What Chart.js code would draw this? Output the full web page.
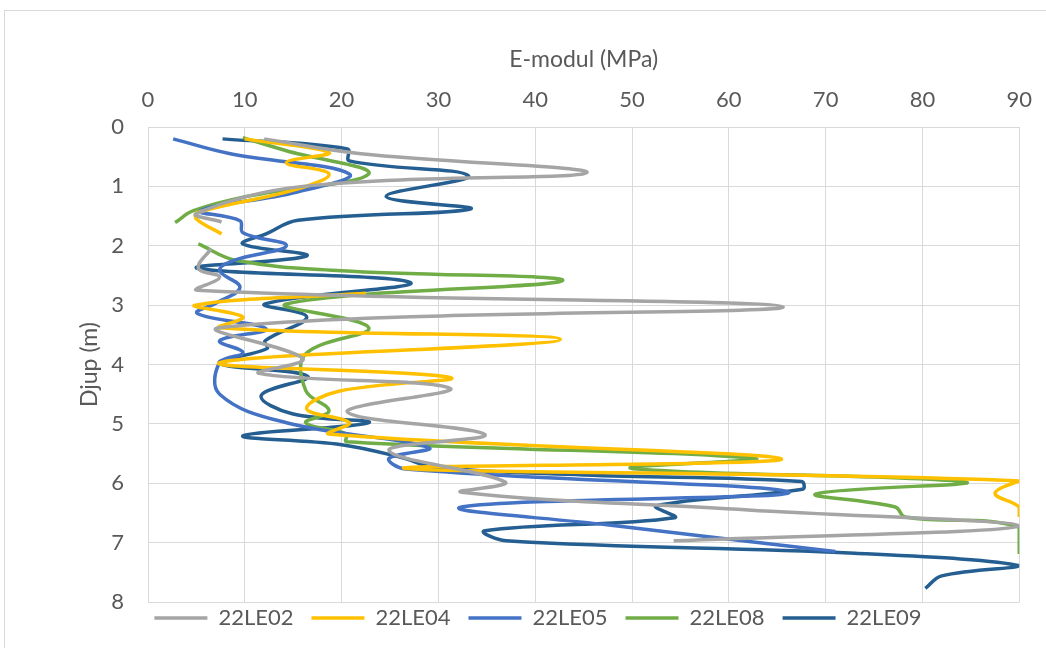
<!DOCTYPE html>
<html>
<head>
<meta charset="utf-8">
<title>E-modul</title>
<script src="https://cdn.jsdelivr.net/npm/chart.js@4"></script>
<style>
  html, body { margin: 0; padding: 0; background: #fff; overflow: hidden; }
  #caja { width: 1046px; height: 648px; }
</style>
</head>
<body>
<div id="caja"><canvas id="miGrafico"></canvas></div>
<script>
// Profundidad (m) y E-modul (MPa) de cada sondeo; null = corte de la linea
const depth02 = [0.2, 0.45, 0.77, 1.0, 1.46, 1.6, null, 2.05, 2.38, 2.53, 2.75, 3.03, 3.38, 3.9, 4.15, 4.4, 4.8, 5.18, 5.45, 5.98, 6.15, 6.45, 6.72, 6.97];
const emod02  = [12, 22, 45.3, 16, 5.0, 7.6, null, 6.5, 5.2, 7.4, 5.1, 65.6, 7.4, 16, 11.5, 31.2, 20.6, 34.8, 24.9, 36.9, 32.4, 62, 90, 54.3];

const depth04 = [0.2, 0.43, 0.6, 0.79, 1.05, 1.44, 1.55, 1.8, null, 2.8, 3.0, 3.2, 3.38, 3.58, 3.97, 4.22, 4.45, 4.75, 4.98, 5.17, 5.59, 5.75, 5.96, 6.17, 6.4, 6.57];
const emod04  = [10, 18.7, 14.3, 18.7, 15.3, 5.1, 5.0, 7.6, null, 22.5, 4.9, 9.8, 7.4, 42.6, 7.4, 31.2, 19.7, 16.4, 20.8, 18.7, 65.4, 26.6, 90, 87.5, 90, 90];

const depth05 = [0.2, 0.45, 0.79, 1.1, 1.41, 1.58, 1.78, 2.0, 2.25, 2.42, 2.7, 2.96, 3.14, 3.4, 3.6, 3.8, 3.97, 4.5, 4.98, 5.4, 5.58, 5.76, 6.15, 6.4, 6.7, 7.15];
const emod05  = [2.6, 8.5, 20.8, 15.3, 5.4, 9.5, 9.8, 14.3, 8.8, 7.4, 9.5, 7.1, 5.1, 12.2, 7.4, 9.8, 7.4, 7.4, 14.3, 29, 24.9, 26.6, 66.2, 32.4, 47.4, 71];

const depth08 = [0.18, 0.4, 0.79, 1.16, 1.41, 1.61, null, 1.97, 2.25, 2.42, 2.59, 2.98, 3.38, 3.82, 4.44, 4.78, 4.98, 5.17, 5.3, 5.58, 5.75, 5.98, 6.18, 6.4, 6.57, 6.74, 7.19];
const emod08  = [9.8, 14.3, 22.8, 10.5, 4.7, 2.8, null, 5.2, 9.2, 20, 42.8, 14.3, 22.8, 16.3, 16.3, 18.7, 16.3, 20.5, 20.5, 62.6, 50, 84.4, 69, 77.2, 78.2, 90, 90];

const depth09 = [0.2, 0.37, 0.57, 0.82, 1.17, 1.38, 1.57, 1.8, 1.97, 2.17, 2.38, 2.62, 2.98, 3.2, 3.6, 3.73, 3.98, 4.2, 4.52, 4.83, 4.98, 5.2, 5.35, 5.58, 5.73, 5.86, 5.97, 6.1, 6.38, 6.58, 6.8, 6.97, 7.18, 7.39, 7.56, 7.77];
const emod09  = [7.7, 20.6, 20.8, 33.1, 24.6, 33.3, 15.5, 12.2, 9.8, 16.4, 5.1, 27.1, 12.1, 16.4, 12.1, 12.3, 7.4, 16.5, 11.7, 14.9, 22.8, 9.8, 20, 26.5, 29.5, 45, 67.5, 67.6, 52.5, 54.4, 34.8, 37, 73, 90, 82, 80.3];

const series = ['22LE02', '22LE04', '22LE05', '22LE08', '22LE09'];
const colores = ['#A5A5A5', '#FFC000', '#4472C4', '#70AD47', '#255E91'];
const xTicks = [0, 10, 20, 30, 40, 50, 60, 70, 80, 90];
const yTicks = [0, 1, 2, 3, 4, 5, 6, 7, 8];

document.addEventListener('DOMContentLoaded', function () {
  const ctx = document.getElementById('miGrafico').getContext('2d');

  // une cada par profundidad / E-modul en puntos {x, y}
  function puntos(prof, emod) {
    return prof.map(function (d, i) { return { x: emod[i], y: d }; });
  }
  const pares = [[depth02, emod02], [depth04, emod04], [depth05, emod05], [depth08, emod08], [depth09, emod09]];

  const datasets = series.map(function (nombre, i) {
    return {
      label: nombre,
      data: puntos(pares[i][0], pares[i][1]),
      borderColor: colores[i],
      backgroundColor: colores[i],
      borderWidth: 3.5,
      showLine: true,
      pointRadius: 0,
      pointHoverRadius: 0,
      tension: 0.4,
      spanGaps: false
    };
  });

  const texto = '#595959';
  const rejilla = '#D9D9D9';
  const fuente = { family: 'Lato', size: 22 };

  // marco del grafico y leyenda un poco mas arriba
  const marco = {
    id: 'marco',
    beforeDraw: function (chart) {
      const c = chart.ctx;
      c.save();
      c.fillStyle = '#ffffff';
      c.fillRect(0, 0, chart.width, chart.height);
      c.strokeStyle = rejilla;
      c.lineWidth = 1;
      c.strokeRect(4.5, 10.5, chart.width + 20, chart.height + 20);
      c.restore();
    },
    afterLayout: function (chart) {
      chart.legend.top -= 13;
      chart.legend.bottom -= 13;
    }
  };

  new Chart(ctx, {
    type: 'scatter',
    data: { datasets: datasets },
    plugins: [marco],
    options: {
      responsive: true,
      maintainAspectRatio: false,
      animation: false,
      layout: { padding: { left: 51, top: 8, right: 21, bottom: -4 } },
      plugins: {
        legend: {
          position: 'bottom',
          labels: {
            usePointStyle: true,
            pointStyle: 'line',
            pointStyleWidth: 53,
            padding: 18,
            color: texto,
            font: fuente
          }
        },
        tooltip: { enabled: false }
      },
      scales: {
        x: {
          type: 'linear',
          position: 'top',
          min: 0,
          max: 90,
          afterFit: function (scale) { scale.height = 119; },
          afterBuildTicks: function (scale) { scale.ticks = xTicks.map(function (v) { return { value: v }; }); },
          ticks: { color: texto, font: fuente, padding: 14 },
          grid: { color: rejilla, drawTicks: false },
          border: { color: rejilla },
          title: { display: true, text: 'E-modul (MPa)', color: texto, font: { family: 'Lato', size: 23 }, padding: { top: 38, bottom: 0 } }
        },
        y: {
          type: 'linear',
          reverse: true,
          min: 0,
          max: 8,
          afterFit: function (scale) { scale.width = 97; },
          afterBuildTicks: function (scale) { scale.ticks = yTicks.map(function (v) { return { value: v }; }); },
          ticks: { color: texto, font: fuente, padding: 24 },
          grid: { color: rejilla, drawTicks: false },
          border: { color: rejilla },
          title: { display: true, text: 'Djup (m)', color: texto, font: { family: 'Lato', size: 23 }, padding: { top: 25, bottom: 0 } }
        }
      }
    }
  });
});
</script>
</body>
</html>
